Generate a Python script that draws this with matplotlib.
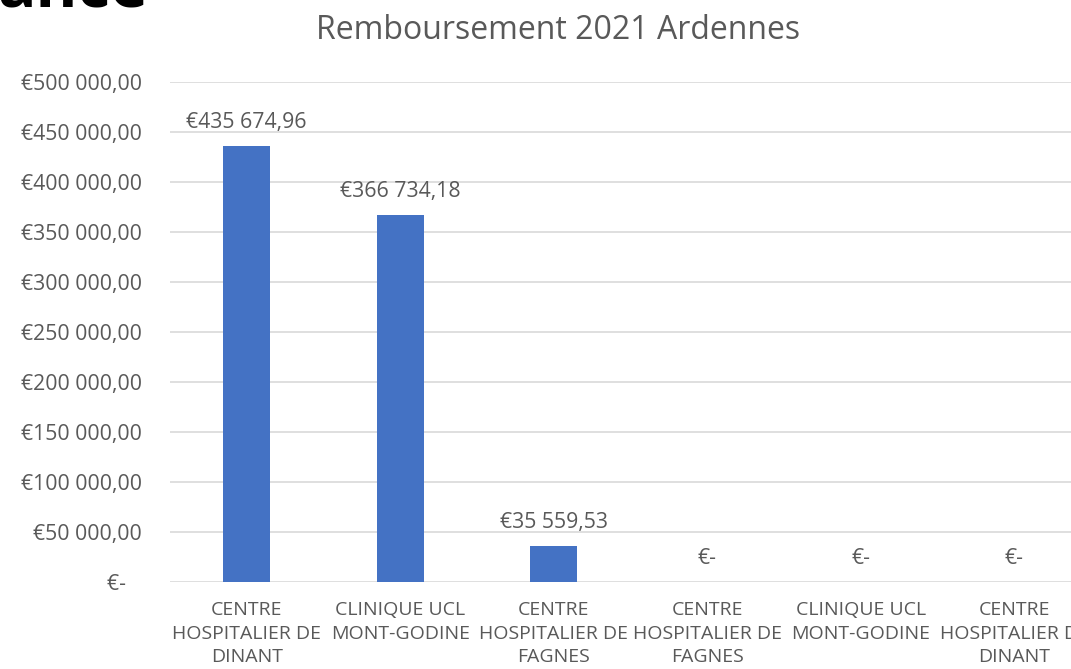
import matplotlib.pyplot as plt

plt.rcParams['font.family'] = ['Open Sans', 'DejaVu Sans']

# data
categories = [
    "CENTRE\nHOSPITALIER DE\nDINANT",
    "CLINIQUE UCL\nMONT-GODINE",
    "CENTRE\nHOSPITALIER DE\nFAGNES",
    "CENTRE\nHOSPITALIER DE\nFAGNES",
    "CLINIQUE UCL\nMONT-GODINE",
    "CENTRE\nHOSPITALIER DE\nDINANT",
]
values = [435674.96, 366734.18, 35559.53, 0, 0, 0]
yticks = [0, 50000, 100000, 150000, 200000, 250000, 300000, 350000, 400000, 450000, 500000]

TEXT = '#595959'
BAR = '#4472C4'
GRID = '#D9D9D9'


def euro(v):
    if v == 0:
        return "€-"
    whole, dec = f"{v:,.2f}".split(".")
    return "€" + whole.replace(",", " ") + "," + dec


fig = plt.figure(figsize=(10.71, 6.69), dpi=100)
# plot area runs past the right edge, like the cropped screenshot
ax = fig.add_axes([0.1587, 0.130, 0.86, 0.7474])

x = list(range(len(categories)))
ax.bar(x, values, width=0.306, color=BAR, zorder=3)
ax.set_xlim(-0.5, len(categories) - 0.5)
ax.set_ylim(0, 500000)

for xi, v in zip(x, values):
    ax.annotate(euro(v), (xi, v), xytext=(0, 13), textcoords='offset points',
                ha='center', va='baseline', fontsize=15.3, color=TEXT)

ax.set_yticks(yticks)
ax.set_yticklabels([euro(t) if t else "€-   " for t in yticks], fontsize=15.3, color=TEXT)
ax.set_xticks(x)
ax.set_xticklabels(categories, fontsize=14, color=TEXT, linespacing=1.36, va='top')
ax.tick_params(axis='y', length=0, pad=20)
ax.tick_params(axis='x', length=0, pad=14)

ax.grid(axis='y', color=GRID, linewidth=1.2, zorder=0)
for s in ax.spines.values():
    s.set_visible(False)

fig.text(0.521, 0.955, "Remboursement 2021 Ardennes", ha='center', va='center',
         fontsize=23, color=TEXT)
# bottom of a slide heading cut off by the crop
fig.text(-0.002, 0.9895, "ance", ha='left', va='baseline', fontsize=46,
         fontweight='bold', color='black')

fig.savefig('out.png', dpi=100)
